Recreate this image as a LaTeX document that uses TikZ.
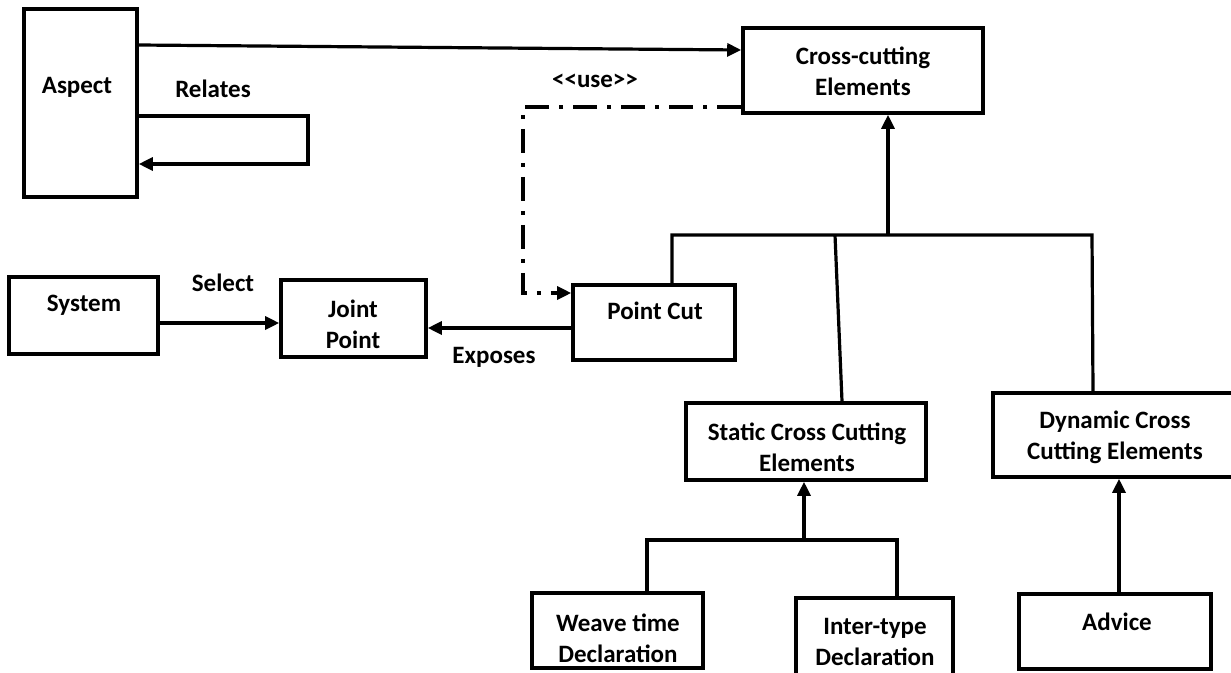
\documentclass[tikz,border=0pt]{standalone}
\usepackage{fontspec}
\setmainfont{Carlito}
\usetikzlibrary{arrows.meta}

\tikzset{
  box/.style={draw=black, line width=3.6pt, fill=none, inner sep=0pt},
  txt/.style={font=\fontsize{25}{31}\selectfont\bfseries, align=center, inner sep=0pt, text=black},
  conn/.style={draw=black, line width=3.2pt},
  arr/.style={conn, -{Triangle[length=14pt,width=13pt]}},
  usedash/.style={arr, dash pattern=on 24pt off 10pt on 4pt off 10pt}
}

\begin{document}
\begin{tikzpicture}[x=1pt, y=-1pt]
  \useasboundingbox (0,0) rectangle (1231,672);
  \clip (0,0) rectangle (1231,672);
  \fill[white] (0,0) rectangle (1231,672);

  % boxes
  \node[box, minimum width=113pt, minimum height=188pt] (aspect)   at (80.5,103)   {};
  \node[box, minimum width=240pt, minimum height=85pt]  (cross)    at (863,70.5)   {};
  \node[box, minimum width=149pt, minimum height=77pt]  (system)   at (83.5,315.5) {};
  \node[box, minimum width=145pt, minimum height=77pt]  (joint)    at (353.5,318.5){};
  \node[box, minimum width=162pt, minimum height=75pt]  (pointcut) at (654,322.5)  {};
  \node[box, minimum width=240pt, minimum height=77pt]  (static)   at (806,441.5)  {};
  \node[box, minimum width=247pt, minimum height=84pt]  (dynamic)  at (1116.5,435) {};
  \node[box, minimum width=171pt, minimum height=75pt]  (weave)    at (617.5,630.5){};
  \node[box, minimum width=157pt, minimum height=80pt]  (inter)    at (874.5,638)  {};
  \node[box, minimum width=192pt, minimum height=75pt]  (advice)   at (1115,631.5) {};

  % box texts
  \node[txt] (aspectT)   at (77,87)     {Aspect};
  \node[txt] (crossT)    at (863,71)    {Cross-cutting\\Elements};
  \node[txt] (systemT)   at (84,305)    {System};
  \node[txt] (jointT)    at (353,324)   {Joint\\Point};
  \node[txt] (pointcutT) at (655,311)   {Point Cut};
  \node[txt] (staticT)   at (807,447)   {Static Cross Cutting\\Elements};
  \node[txt] (dynamicT)  at (1115,437)  {Dynamic Cross\\Cutting Elements};
  \node[txt] (weaveT)    at (618,638.5) {Weave time\\Declaration};
  \node[txt] (interT)    at (875,642)   {Inter-type\\Declaration};
  \node[txt] (adviceT)   at (1117,622)  {Advice};

  % connector labels
  \node[txt] (relatesL) at (213,89)  {Relates};
  \node[txt] (useL)     at (595,81)  {<{}<use>{}>};
  \node[txt] (selectL)  at (223,283) {Select};
  \node[txt] (exposesL) at (494,357) {Exposes};

  % aspect associations
  \draw[arr] (aspect.east |- 0,45) -- (cross.west |- 0,50);
  \draw[arr] (aspect.east |- 0,116) -- (308,116) |- (aspect.east |- 0,164);

  % <<use>> dependency
  \draw[usedash] (cross.west |- 0,107) -- (523,107) |- (pointcut.west |- 0,293);

  % select / exposes
  \draw[arr] (system.east |- 0,323) -- (joint.west |- 0,323);
  \draw[arr] (pointcut.west |- 0,328) -- (joint.east |- 0,328);

  % generalisation tree of cross-cutting elements
  \coordinate (barL) at (672,235);
  \coordinate (barR) at (1092,235);
  \coordinate (barHub) at (888,235);
  \draw[arr] (barHub) -- (barHub |- cross.south);
  \draw[conn] (pointcut.north -| barL) -- (barL) -- (barR) -- (dynamic.north -| 1093,0);
  \draw[conn] (835,235) -- (static.north -| 842,0);

  % static cross cutting sub-tree
  \coordinate (subL) at (647,540);
  \coordinate (subR) at (897,540);
  \coordinate (subHub) at (804,540);
  \draw[arr] (subHub) -- (subHub |- static.south);
  \draw[conn] (weave.north -| subL) -- (subL) -- (subR) -- (inter.north -| subR);

  % advice
  \draw[arr] (advice.north -| 1119,0) -- (dynamic.south -| 1119,0);
\end{tikzpicture}
\end{document}
